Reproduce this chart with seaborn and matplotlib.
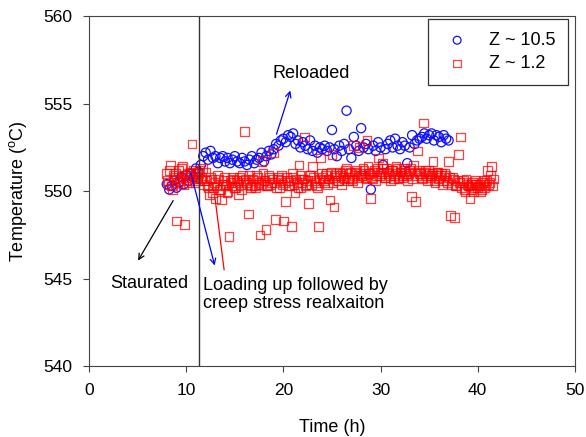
import numpy as np
import pandas as pd
import matplotlib
matplotlib.use("Agg")
import matplotlib.pyplot as plt
import seaborn as sns

# Z ~ 10.5 (blue circles), every 0.25 h
blue_time = [8.00, 8.25, 8.50, 8.75, 9.00, 9.25, 9.50, 9.75, 10.00, 10.25, 10.50, 10.75,
             11.00, 11.25, 11.50, 11.75, 12.00, 12.25, 12.50, 12.75, 13.00, 13.25, 13.50, 13.75,
             14.00, 14.25, 14.50, 14.75, 15.00, 15.25, 15.50, 15.75, 16.00, 16.25, 16.50, 16.75,
             17.00, 17.25, 17.50, 17.75, 18.00, 18.25, 18.50, 18.75, 19.00, 19.25, 19.50, 19.75,
             20.00, 20.25, 20.50, 20.75, 21.00, 21.25, 21.50, 21.75, 22.00, 22.25, 22.50, 22.75,
             23.00, 23.25, 23.50, 23.75, 24.00, 24.25, 24.50, 24.75, 25.00, 25.25, 25.50, 25.75,
             26.00, 26.25, 26.50, 26.75, 27.00, 27.25, 27.50, 27.75, 28.00, 28.25, 28.50, 28.75,
             29.00, 29.25, 29.50, 29.75, 30.00, 30.25, 30.50, 30.75, 31.00, 31.25, 31.50, 31.75,
             32.00, 32.25, 32.50, 32.75, 33.00, 33.25, 33.50, 33.75, 34.00, 34.25, 34.50, 34.75,
             35.00, 35.25, 35.50, 35.75, 36.00, 36.25, 36.50, 36.75, 37.00]
blue_temp = [550.4, 550.1, 550.3, 550.6, 550.2, 550.5, 550.8, 550.4, 550.9, 550.6, 551.0, 550.8,
             551.3, 551.1, 551.5, 552.0, 552.2, 551.8, 552.3, 551.9, 552.0, 551.6, 551.9, 552.0,
             551.7, 551.9, 551.6, 551.8, 552.0, 551.7, 551.6, 551.9, 551.7, 551.5, 551.8, 552.0,
             551.6, 551.8, 551.9, 552.2, 551.7, 552.0, 552.3, 552.1, 552.4, 552.7, 552.6, 552.9,
             553.0, 552.8, 553.2, 553.1, 553.3, 552.7, 552.9, 552.5, 552.8, 552.6, 552.4, 552.9,
             552.3, 552.6, 552.2, 552.5, 552.4, 552.6, 552.3, 552.5, 553.5, 552.4, 552.0, 552.6,
             552.3, 552.7, 554.6, 552.4, 551.9, 553.1, 552.6, 552.3, 553.6, 552.5, 552.7, 552.4,
             550.1, 552.6, 552.3, 552.8, 552.5, 551.5, 552.4, 552.7, 552.9, 552.5, 553.0, 552.6,
             552.4, 552.8, 552.6, 551.6, 552.5, 553.2, 552.7, 552.9, 553.0, 553.1, 553.3, 553.0,
             553.2, 553.3, 552.9, 553.2, 553.1, 552.8, 553.2, 553.0, 552.9]

# Z ~ 1.2 (red squares), every 0.1 h
red_time = [8.0, 8.1, 8.2, 8.3, 8.4, 8.5, 8.6, 8.7, 8.8, 8.9, 9.0, 9.1, 9.2, 9.3, 9.4, 9.5, 9.6, 9.7, 9.8, 9.9,
            10.0, 10.1, 10.2, 10.3, 10.4, 10.5, 10.6, 10.7, 10.8, 10.9, 11.0, 11.1, 11.2, 11.3, 11.4, 11.5, 11.6, 11.7, 11.8, 11.9,
            12.0, 12.1, 12.2, 12.3, 12.4, 12.5, 12.6, 12.7, 12.8, 12.9, 13.0, 13.1, 13.2, 13.3, 13.4, 13.5, 13.6, 13.7, 13.8, 13.9,
            14.0, 14.1, 14.2, 14.3, 14.4, 14.5, 14.6, 14.7, 14.8, 14.9, 15.0, 15.1, 15.2, 15.3, 15.4, 15.5, 15.6, 15.7, 15.8, 15.9,
            16.0, 16.1, 16.2, 16.3, 16.4, 16.5, 16.6, 16.7, 16.8, 16.9, 17.0, 17.1, 17.2, 17.3, 17.4, 17.5, 17.6, 17.7, 17.8, 17.9,
            18.0, 18.1, 18.2, 18.3, 18.4, 18.5, 18.6, 18.7, 18.8, 18.9, 19.0, 19.1, 19.2, 19.3, 19.4, 19.5, 19.6, 19.7, 19.8, 19.9,
            20.0, 20.1, 20.2, 20.3, 20.4, 20.5, 20.6, 20.7, 20.8, 20.9, 21.0, 21.1, 21.2, 21.3, 21.4, 21.5, 21.6, 21.7, 21.8, 21.9,
            22.0, 22.1, 22.2, 22.3, 22.4, 22.5, 22.6, 22.7, 22.8, 22.9, 23.0, 23.1, 23.2, 23.3, 23.4, 23.5, 23.6, 23.7, 23.8, 23.9,
            24.0, 24.1, 24.2, 24.3, 24.4, 24.5, 24.6, 24.7, 24.8, 24.9, 25.0, 25.1, 25.2, 25.3, 25.4, 25.5, 25.6, 25.7, 25.8, 25.9,
            26.0, 26.1, 26.2, 26.3, 26.4, 26.5, 26.6, 26.7, 26.8, 26.9, 27.0, 27.1, 27.2, 27.3, 27.4, 27.5, 27.6, 27.7, 27.8, 27.9,
            28.0, 28.1, 28.2, 28.3, 28.4, 28.5, 28.6, 28.7, 28.8, 28.9, 29.0, 29.1, 29.2, 29.3, 29.4, 29.5, 29.6, 29.7, 29.8, 29.9,
            30.0, 30.1, 30.2, 30.3, 30.4, 30.5, 30.6, 30.7, 30.8, 30.9, 31.0, 31.1, 31.2, 31.3, 31.4, 31.5, 31.6, 31.7, 31.8, 31.9,
            32.0, 32.1, 32.2, 32.3, 32.4, 32.5, 32.6, 32.7, 32.8, 32.9, 33.0, 33.1, 33.2, 33.3, 33.4, 33.5, 33.6, 33.7, 33.8, 33.9,
            34.0, 34.1, 34.2, 34.3, 34.4, 34.5, 34.6, 34.7, 34.8, 34.9, 35.0, 35.1, 35.2, 35.3, 35.4, 35.5, 35.6, 35.7, 35.8, 35.9,
            36.0, 36.1, 36.2, 36.3, 36.4, 36.5, 36.6, 36.7, 36.8, 36.9, 37.0, 37.1, 37.2, 37.3, 37.4, 37.5, 37.6, 37.7, 37.8, 37.9,
            38.0, 38.1, 38.2, 38.3, 38.4, 38.5, 38.6, 38.7, 38.8, 38.9, 39.0, 39.1, 39.2, 39.3, 39.4, 39.5, 39.6, 39.7, 39.8, 39.9,
            40.0, 40.1, 40.2, 40.3, 40.4, 40.5, 40.6, 40.7, 40.8, 40.9, 41.0, 41.1, 41.2, 41.3, 41.4, 41.5, 41.6]
red_temp = [551.0, 550.6, 550.4, 551.2, 551.5, 550.3, 550.1, 550.9, 550.8, 551.0, 548.3, 550.5, 551.2, 550.7, 550.6, 551.3, 551.4, 550.4, 548.1, 550.8,
            550.9, 551.0, 550.5, 550.6, 551.1, 550.9, 552.7, 551.2, 550.7, 550.5, 551.0, 550.8, 550.6, 551.0, 551.2, 550.7, 550.8, 551.3, 550.4, 550.6,
            551.1, 550.6, 550.3, 550.2, 549.8, 550.8, 550.7, 549.9, 550.2, 550.5, 549.6, 550.3, 550.9, 550.7, 550.1, 550.1, 549.5, 550.4, 550.6, 550.8,
            550.3, 550.4, 549.9, 550.0, 547.4, 550.6, 550.5, 550.3, 550.8, 550.7, 550.2, 550.2, 550.6, 550.5, 549.8, 550.8, 550.4, 550.1, 550.9, 550.6,
            553.4, 550.7, 550.5, 550.4, 548.7, 550.9, 550.2, 550.3, 550.7, 550.6, 550.3, 550.2, 550.9, 550.8, 550.4, 550.5, 547.5, 550.4, 551.7, 551.0,
            550.6, 550.6, 547.8, 550.3, 550.3, 550.9, 550.8, 550.4, 550.5, 550.7, 552.2, 550.5, 548.4, 550.2, 550.7, 550.8, 550.2, 550.6, 550.9, 550.4,
            548.3, 550.5, 549.4, 550.8, 550.6, 550.3, 550.3, 550.6, 548.0, 551.0, 550.8, 550.4, 549.9, 550.7, 550.5, 550.2, 551.5, 550.9, 550.2, 550.5,
            550.7, 550.7, 553.1, 550.3, 550.4, 550.6, 549.3, 550.9, 550.9, 550.4, 551.4, 550.8, 550.6, 550.5, 550.3, 550.2, 548.0, 550.7, 551.9, 551.0,
            550.8, 550.6, 550.5, 550.9, 551.0, 550.4, 550.7, 550.7, 549.5, 551.1, 552.1, 550.5, 549.1, 550.8, 550.9, 551.0, 550.6, 550.6, 551.1, 550.9,
            550.4, 551.0, 550.8, 550.7, 551.2, 551.3, 550.6, 550.8, 551.0, 551.1, 550.7, 550.6, 552.6, 550.9, 551.1, 551.2, 550.5, 550.8, 552.5, 551.0,
            550.9, 550.9, 551.3, 551.2, 550.8, 550.7, 552.9, 551.4, 551.0, 551.0, 549.6, 550.8, 550.7, 551.1, 551.2, 550.6, 550.9, 551.3, 551.9, 550.9,
            551.1, 551.0, 551.6, 551.3, 550.8, 550.8, 551.3, 551.1, 551.0, 550.9, 550.6, 551.2, 551.2, 550.7, 550.9, 551.0, 551.4, 551.3, 550.7, 550.8,
            551.1, 551.1, 550.9, 550.8, 551.3, 551.2, 551.0, 550.9, 550.6, 551.0, 551.2, 551.3, 549.7, 550.7, 551.5, 551.1, 549.4, 550.9, 552.3, 551.2,
            551.0, 551.0, 550.8, 550.7, 553.9, 551.1, 551.2, 550.9, 550.6, 551.2, 551.0, 550.8, 550.9, 551.0, 551.7, 550.6, 550.5, 550.9, 551.1, 551.1,
            550.7, 550.8, 550.9, 551.0, 550.4, 550.6, 551.0, 550.9, 550.6, 550.5, 551.7, 550.8, 548.6, 550.4, 550.8, 550.7, 548.5, 550.3, 550.3, 550.6,
            552.1, 550.5, 553.1, 550.2, 550.5, 550.6, 550.1, 550.0, 550.7, 550.4, 550.3, 550.3, 549.6, 550.1, 550.4, 550.5, 550.0, 550.2, 550.6, 550.4,
            550.2, 550.3, 550.4, 550.0, 550.1, 550.5, 550.6, 550.2, 550.3, 550.6, 551.2, 550.4, 550.5, 550.9, 551.4, 550.3, 550.7]

switch_time = 11.3

df_blue = pd.DataFrame({"time": blue_time, "temp": blue_temp})
df_red = pd.DataFrame({"time": red_time, "temp": red_temp})

sns.set_style("ticks")
plt.rcParams["font.family"] = ["Liberation Sans", "DejaVu Sans"]
plt.rcParams["mathtext.default"] = "regular"
plt.rcParams["text.color"] = "black"
plt.rcParams["axes.labelcolor"] = "black"

fig, ax = plt.subplots(figsize=(5.86, 4.37), dpi=100)
fig.subplots_adjust(left=0.152, right=0.981, top=0.963, bottom=0.162)

sns.scatterplot(x="time", y="temp", data=df_blue, ax=ax, marker="o", s=44,
                facecolor="none", edgecolor="#1010ff", linewidth=0.9, label="Z ~ 10.5")
sns.scatterplot(x="time", y="temp", data=df_red, ax=ax, marker="s", s=40,
                facecolor="none", edgecolor=(1, 0, 0, 0.75), linewidth=0.9, label="Z ~ 1.2")

ax.axvline(switch_time, color="#333333", lw=1)

ax.annotate("", xy=(20.8, 555.9), xytext=(19.2, 553.1),
            arrowprops=dict(arrowstyle="->", color="blue", lw=0.9))
ax.text(22.9, 556.7, "Reloaded", ha="center", va="center", fontsize=13)

ax.annotate("", xy=(4.9, 545.9), xytext=(8.8, 549.6),
            arrowprops=dict(arrowstyle="->", color="black", lw=0.9))
ax.text(6.2, 544.7, "Staurated", ha="center", va="center", fontsize=13)

ax.annotate("", xy=(13.0, 545.6), xytext=(10.4, 551.2),
            arrowprops=dict(arrowstyle="->", color="blue", lw=0.9))
ax.plot([12.95, 13.9], [549.66, 545.5], color="red", lw=0.9)
ax.text(11.7, 544.1, "Loading up followed by\ncreep stress realxaiton",
        ha="left", va="center", fontsize=13, linespacing=1.1)

ax.set_xlim(0, 50)
ax.set_ylim(540, 560)
ax.set_xticks([0, 10, 20, 30, 40, 50])
ax.set_yticks([540, 545, 550, 555, 560])
ax.set_xlabel("Time (h)", fontsize=13, labelpad=15)
ax.set_ylabel("Temperature ($^{o}$C)", fontsize=13, labelpad=10)
ax.tick_params(direction="out", length=4, width=0.8, colors="#444444", labelcolor="black",
               labelsize=12.5, pad=8)
for sp in ax.spines.values():
    sp.set_color("#444444")
    sp.set_linewidth(0.8)

leg = ax.legend(loc="upper right", bbox_to_anchor=(0.9856, 0.991), frameon=True, fancybox=False,
                fontsize=13, borderpad=0.7, handlelength=1.8, handletextpad=0.85,
                labelspacing=0.35, borderaxespad=0, markerscale=0.85)
leg.get_frame().set_edgecolor("black")
leg.get_frame().set_linewidth(0.9)

plt.savefig("out.png", dpi=100)
